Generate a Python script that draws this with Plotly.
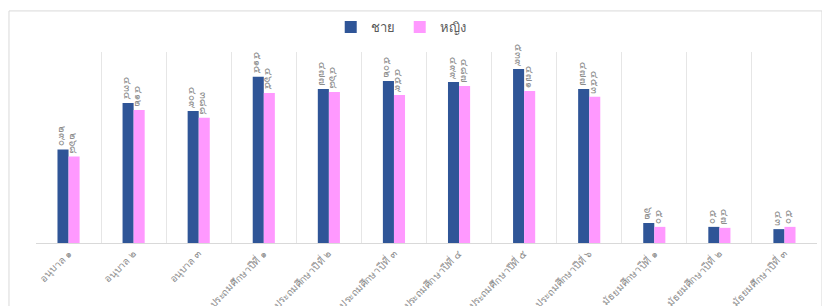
import plotly.graph_objects as go

categories = ["อนุบาล ๑", "อนุบาล ๒", "อนุบาล ๓",
              "ประถมศึกษาปีที่ ๑", "ประถมศึกษาปีที่ ๒", "ประถมศึกษาปีที่ ๓",
              "ประถมศึกษาปีที่ ๔", "ประถมศึกษาปีที่ ๕", "ประถมศึกษาปีที่ ๖",
              "มัธยมศึกษาปีที่ ๑", "มัธยมศึกษาปีที่ ๒", "มัธยมศึกษาปีที่ ๓"]
male = [290, 434, 409, 515, 477, 502, 499, 539, 477, 62, 50, 43]
female = [268, 412, 388, 465, 468, 459, 487, 471, 453, 50, 47, 50]
series_names = ["ชาย", "หญิง"]

THAI_DIGITS = "๐๑๒๓๔๕๖๗๘๙"


def thai_num(n):
    return "".join(THAI_DIGITS[int(d)] for d in str(n))


fig = go.Figure()
for name, vals, color in [(series_names[0], male, "#2F5597"),
                          (series_names[1], female, "#FF99FF")]:
    fig.add_trace(go.Bar(
        x=categories, y=vals, name=name,
        marker=dict(color=color, line=dict(width=0)),
        text=[thai_num(v) for v in vals],
        textposition="outside", textangle=90, constraintext="none",
        textfont=dict(size=10, color="#8c8c8c"),
        cliponaxis=False,
    ))

# page body has an 8px margin, so the figure is sized/placed accordingly
fig.update_layout(
    width=822, height=298,
    margin=dict(l=28, r=13, t=44, b=63, autoexpand=False),
    paper_bgcolor="white", plot_bgcolor="white",
    barmode="group", bargap=0.66, bargroupgap=0,
    font=dict(family="Noto Sans, DejaVu Sans, sans-serif", color="#595959"),
    legend=dict(orientation="h", x=0.467, xanchor="center",
                yref="container", y=1 - 19 / 298, yanchor="middle",
                font=dict(size=13, color="#595959"), itemwidth=30,
                traceorder="normal"),
    shapes=[dict(type="rect", xref="paper", yref="paper",
                 x0=-0.0346, x1=1.0064, y0=-0.4, y1=1.215,
                 line=dict(color="#d9d9d9", width=1), fillcolor="rgba(0,0,0,0)",
                 layer="below")],
)
fig.update_xaxes(
    type="category", tickangle=-45, tickfont=dict(size=10, color="#8c8c8c"),
    showline=True, linecolor="#d9d9d9", linewidth=1,
    showgrid=True, gridcolor="#e6e6e6", tickson="boundaries",
    ticks="", ticklen=0, automargin=False,
)
fig.update_yaxes(range=[0, 592], visible=False, showgrid=False)

fig.write_html("out.html")
